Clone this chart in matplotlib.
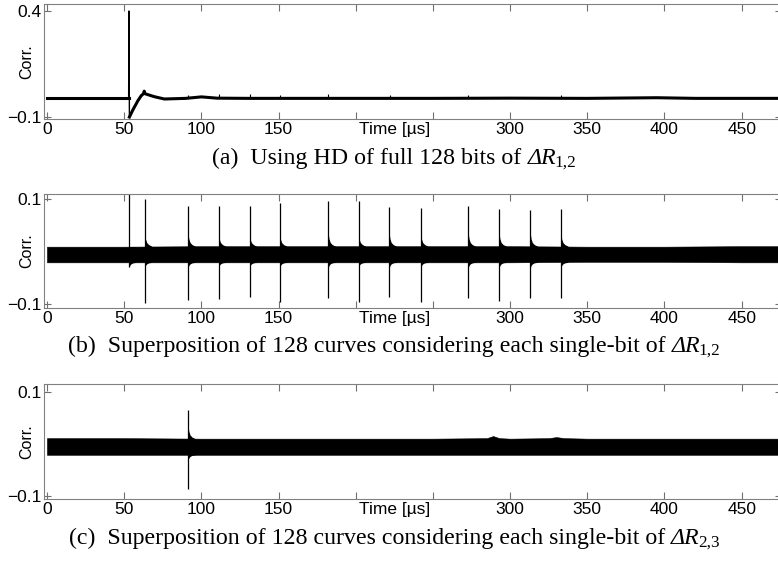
import numpy as np
import matplotlib
matplotlib.use('Agg')
import matplotlib.pyplot as plt
import matplotlib.transforms as mtransforms

plt.rcParams['font.family'] = ['Liberation Sans', 'DejaVu Sans']

# panel (a): HD of full 128 bits, one averaged trace
t_a = [0, 25, 50, 52.9, 53.1, 53.4, 55.6, 58.9, 61.0, 62.5, 63.0, 63.5, 66.0, 69.5, 76.0,
       90, 100, 110, 130, 150, 200, 250, 300, 350, 395, 420, 475]
c_a = [-0.012, -0.012, -0.012, -0.012, 0.400, -0.100, -0.067, -0.023, 0.000, 0.010, 0.022,
       0.010, 0.004, -0.004, -0.015, -0.012, -0.005, -0.011, -0.012, -0.012, -0.012,
       -0.012, -0.011, -0.012, -0.009, -0.012, -0.012]
small_t_a = [91.5, 111.2, 131.2, 150.8, 182.3, 222, 273, 333]
small_top_a = [0.006, 0.008, 0.008, 0.006, 0.007, 0.004, 0.005, 0.004]

# panel (b): 128 single-bit curves of dR12
band_t = [0, 50, 100, 150, 200, 250, 300, 350, 400, 450, 476]
band_hi_b = [0.009, 0.009, 0.010, 0.010, 0.010, 0.010, 0.010, 0.009, 0.009, 0.010, 0.010]
band_lo_b = [-0.021, -0.021, -0.021, -0.021, -0.021, -0.021, -0.021, -0.020, -0.020, -0.021, -0.021]
spike_t_b = [53.2, 63.4, 91.5, 111.2, 131.2, 150.8, 182.3, 201.8, 221.8, 242.2, 273.0, 293.0, 313.2, 333.0]
spike_up_b = [0.112, 0.100, 0.087, 0.087, 0.087, 0.092, 0.096, 0.097, 0.086, 0.084, 0.087, 0.081, 0.080, 0.081]
spike_dn_b = [-0.030, -0.099, -0.094, -0.091, -0.088, -0.098, -0.089, -0.097, -0.088, -0.098, -0.090, -0.095, -0.090, -0.089]

# panel (c): 128 single-bit curves of dR23
band_t_c = [0, 50, 100, 150, 200, 250, 285, 289, 293, 300, 325, 330, 335, 350, 400, 450, 476]
band_hi_c = [0.011, 0.011, 0.010, 0.010, 0.010, 0.010, 0.011, 0.015, 0.011, 0.010, 0.011, 0.013,
             0.011, 0.010, 0.010, 0.010, 0.010]
band_lo_c = [-0.021, -0.021, -0.021, -0.021, -0.021, -0.021, -0.021, -0.021, -0.021, -0.021,
             -0.021, -0.021, -0.021, -0.021, -0.021, -0.021, -0.021]
spike_t_c = [91.5]
spike_up_c = [0.065]
spike_dn_c = [-0.086]

# decay just after each leakage spike
tail_dt = [0, 0.4, 1.2, 2.5, 4.5]
tail_hi = [0.032, 0.024, 0.017, 0.013, 0.010]
tail_lo = [-0.031, -0.027, -0.024, -0.022, -0.021]

xticks = [0, 50, 100, 150, 200, 250, 300, 350, 400, 450]
xticklabels = ['0', '50', '100', '150', '', '', '300', '350', '400', '450']

caption_heads = ['(a)  Using HD of full 128 bits of ',
                 '(b)  Superposition of 128 curves considering each single-bit of ',
                 '(c)  Superposition of 128 curves considering each single-bit of ']
caption_subs = ['1,2', '1,2', '2,3']


def style_axes(ax, ylim, yticks, yticklabels):
    ax.set_xlim(-1.75, 476)
    ax.set_ylim(*ylim)
    ax.set_xticks(xticks)
    ax.set_xticklabels(xticklabels)
    ax.set_yticks(yticks)
    ax.set_yticklabels(yticklabels)
    ax.tick_params(direction='in', top=True, right=True, length=5, width=0.8,
                   color='#707070', labelsize=12.5, pad=2)
    for s in ax.spines.values():
        s.set_color('#808080')
        s.set_linewidth(0.8)
    ax.set_ylabel('Corr.', fontsize=11.5, va='center')
    ax.yaxis.set_label_coords(-0.0235, 0.5)
    trans = mtransforms.blended_transform_factory(ax.transData, ax.transAxes)
    ax.annotate('Time [\u00b5s]', xy=(225, 0), xycoords=trans, xytext=(0, -2),
                textcoords='offset points', ha='center', va='top', fontsize=12.5)


def draw_band(ax, t, hi, lo, spikes_t, spikes_up, spikes_dn, first_dip=False):
    ax.fill_between(t, lo, hi, color='black', linewidth=0.4)
    for i, (t0, up, dn) in enumerate(zip(spikes_t, spikes_up, spikes_dn)):
        tt = [t0 + d for d in tail_dt]
        if first_dip and i == 0:
            ax.fill_between(tt, tail_lo, [hi[0]] * len(tt), color='black', linewidth=0)
        else:
            ax.fill_between(tt, tail_lo, tail_hi, color='black', linewidth=0)
        ax.vlines(t0, dn, up, color='black', linewidth=0.9)


def draw_caption(fig, xc, y, head, sub, size=17.2):
    serif = ['Liberation Serif', 'DejaVu Serif']
    r = fig.canvas.get_renderer()
    t1 = fig.text(0, y, head, fontsize=size, family=serif, va='baseline')
    t2 = fig.text(0, y, '\u0394R', fontsize=size, family=serif, style='italic', va='baseline')
    t3 = fig.text(0, y - 0.0045, sub, fontsize=size * 0.72, family=serif, va='baseline')
    w = [t.get_window_extent(r).width / fig.bbox.width for t in (t1, t2, t3)]
    x0 = xc - sum(w) / 2
    t1.set_x(x0)
    t2.set_x(x0 + w[0])
    t3.set_x(x0 + w[0] + w[1] - 0.002)


fig = plt.figure(figsize=(7.78, 5.63), dpi=100)

ax1 = fig.add_axes([0.0569, 0.7886, 0.948, 0.2043])
ax1.plot(t_a[:4], c_a[:4], color='black', linewidth=2.2)
ax1.plot(t_a[3:6], c_a[3:6], color='black', linewidth=1.0)
ax1.plot(t_a[5:], c_a[5:], color='black', linewidth=2.2)
ax1.vlines(small_t_a, -0.012, small_top_a, color='black', linewidth=0.8)
style_axes(ax1, (-0.1094, 0.433), [-0.1, 0.4], ['\u22120.1', '0.4'])

ax2 = fig.add_axes([0.0569, 0.4529, 0.948, 0.2025])
draw_band(ax2, band_t, band_hi_b, band_lo_b, spike_t_b, spike_up_b, spike_dn_b, first_dip=True)
style_axes(ax2, (-0.1086, 0.110), [-0.1, 0.1], ['\u22120.1', '0.1'])

ax3 = fig.add_axes([0.0569, 0.1131, 0.948, 0.2043])
draw_band(ax3, band_t_c, band_hi_c, band_lo_c, spike_t_c, spike_up_c, spike_dn_c)
style_axes(ax3, (-0.1063, 0.1142), [-0.1, 0.1], ['\u22120.1', '0.1'])

for y, head, sub in zip([0.708, 0.374, 0.033], caption_heads, caption_subs):
    draw_caption(fig, 0.508, y, head, sub)

fig.savefig('out.png', dpi=100)
